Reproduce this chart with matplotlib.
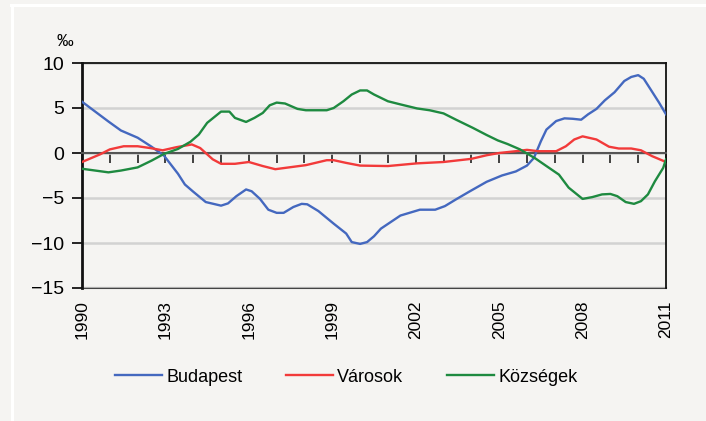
import matplotlib
matplotlib.use("Agg")
import matplotlib.pyplot as plt
from matplotlib import font_manager
from matplotlib.lines import Line2D

bp_x = [1990.0, 1990.95, 1991.4, 1992.0, 1992.5, 1992.95, 1993.45, 1993.7, 1994.0, 1994.45,
        1995.0, 1995.25, 1995.55, 1995.9, 1996.1, 1996.4, 1996.7, 1997.0, 1997.25, 1997.6,
        1997.9, 1998.1, 1998.5, 1999.05, 1999.5, 1999.7, 2000.0, 2000.25, 2000.5, 2000.75,
        2001.45, 2002.15, 2002.7, 2003.05, 2003.45, 2003.95, 2004.55, 2005.1, 2005.6, 2006.0,
        2006.25, 2006.5, 2006.7, 2007.05, 2007.35, 2007.65, 2007.95, 2008.2, 2008.5, 2008.8,
        2009.15, 2009.5, 2009.75, 2010.0, 2010.2, 2010.45, 2010.75, 2011.0]
budapest = [5.7, 3.5, 2.5, 1.7, 0.7, -0.3, -2.3, -3.5, -4.3, -5.45,
            -5.85, -5.6, -4.8, -4.05, -4.25, -5.1, -6.3, -6.65, -6.65, -6.0,
            -5.65, -5.7, -6.45, -7.85, -8.95, -9.9, -10.1, -9.9, -9.25, -8.4,
            -6.95, -6.3, -6.3, -5.9, -5.15, -4.25, -3.2, -2.5, -2.05, -1.4,
            -0.55, 1.3, 2.6, 3.55, 3.85, 3.8, 3.7, 4.3, 4.9, 5.85,
            6.75, 8.0, 8.45, 8.65, 8.25, 7.05, 5.6, 4.3]

va_x = [1990.0, 1990.65, 1991.0, 1991.5, 1992.0, 1992.45, 1992.9, 1993.4, 1993.95, 1994.25,
        1994.7, 1995.0, 1995.5, 1996.0, 1996.5, 1996.95, 1998.05, 1998.8, 1999.05, 1999.5,
        2000.0, 2001.0, 2002.05, 2003.0, 2004.0, 2004.55, 2005.0, 2005.6, 2006.0, 2006.4,
        2007.05, 2007.4, 2007.7, 2008.0, 2008.5, 2008.95, 2009.3, 2009.75, 2010.1, 2010.5, 2011.0]
varosok = [-1.0, -0.15, 0.4, 0.75, 0.75, 0.55, 0.3, 0.65, 0.95, 0.55,
           -0.7, -1.2, -1.2, -1.0, -1.45, -1.8, -1.35, -0.8, -0.8, -1.1,
           -1.4, -1.45, -1.15, -1.0, -0.65, -0.25, 0.0, 0.2, 0.35, 0.2,
           0.2, 0.75, 1.5, 1.85, 1.5, 0.7, 0.5, 0.5, 0.3, -0.35, -1.0]

ko_x = [1990.0, 1990.95, 1991.4, 1992.0, 1992.5, 1992.95, 1993.45, 1993.9, 1994.2, 1994.5,
        1995.0, 1995.3, 1995.5, 1995.9, 1996.2, 1996.5, 1996.75, 1997.0, 1997.3, 1997.75,
        1998.05, 1998.8, 1999.05, 1999.4, 1999.7, 2000.0, 2000.25, 2000.5, 2001.0, 2001.45,
        2002.05, 2002.5, 2003.0, 2003.45, 2004.05, 2004.55, 2004.95, 2005.3, 2005.75, 2006.3,
        2006.7, 2007.15, 2007.5, 2008.0, 2008.35, 2008.7, 2009.0, 2009.25, 2009.55, 2009.85,
        2010.1, 2010.35, 2010.6, 2010.9, 2011.0]
kozsegek = [-1.75, -2.15, -1.95, -1.6, -0.85, -0.1, 0.45, 1.25, 2.05, 3.35,
            4.6, 4.6, 3.9, 3.45, 3.9, 4.45, 5.3, 5.6, 5.5, 4.9,
            4.75, 4.75, 5.0, 5.75, 6.5, 6.95, 6.95, 6.5, 5.75, 5.4,
            4.95, 4.75, 4.4, 3.7, 2.8, 2.0, 1.4, 1.0, 0.4, -0.6,
            -1.45, -2.4, -3.85, -5.1, -4.9, -4.6, -4.55, -4.8, -5.45, -5.65,
            -5.35, -4.6, -3.15, -1.65, -0.7]

labels = ["Budapest", "Városok", "Községek"]
colors = ["#4468bf", "#f23a3a", "#1e8a40"]
year_labels = [1990, 1993, 1996, 1999, 2002, 2005, 2008, 2011]

names = {f.name for f in font_manager.fontManager.ttflist}
fam = "Liberation Sans Narrow" if "Liberation Sans Narrow" in names else "Liberation Sans"
plt.rcParams["font.family"] = [fam, "DejaVu Sans"]
bg = "#f5f4f2"

fig = plt.figure(figsize=(7.06, 4.21), dpi=100, facecolor=bg)
ax = fig.add_axes([82 / 706, 1 - 288 / 421, 584 / 706, 225 / 421])
ax.set_facecolor(bg)

# white frame lines of the panel
fig.add_artist(Line2D([11 / 706, 1], [1 - 4.5 / 421] * 2, color="white", lw=2.2))
fig.add_artist(Line2D([12 / 706] * 2, [0, 1 - 4.5 / 421], color="white", lw=2.2))

for xs, ys, c, lab in zip([bp_x, va_x, ko_x], [budapest, varosok, kozsegek], colors, labels):
    ax.plot(xs, ys, color=c, lw=1.7, label=lab, zorder=3)

ax.set_xlim(1990, 2011)
ax.set_ylim(-15, 10)
ax.set_yticks([-15, -10, -5, 0, 5, 10])
ax.set_yticklabels(["\u221215", "\u221210", "\u22125", "0", "5", "10"])
ax.yaxis.grid(True, color="#d2d2d2", lw=1.8)
ax.set_axisbelow(True)
ax.tick_params(axis="y", direction="out", length=7, width=1.2, pad=6, labelsize=14)

# year ticks on the zero line
ax.spines["bottom"].set_position(("data", 0))
ax.spines["bottom"].set_color("#555555")
ax.spines["bottom"].set_linewidth(1.5)
ax.set_xticks(range(1990, 2012))
ax.tick_params(axis="x", direction="out", length=7, width=1.2, color="#222222", labelbottom=False)

for s in ["left", "top", "right"]:
    ax.spines[s].set_color("#111111")
ax.spines["left"].set_linewidth(2)
ax.spines["top"].set_linewidth(1.3)
ax.spines["right"].set_linewidth(1.3)

# bottom border with the year labels
sec = ax.secondary_xaxis("bottom")
sec.set_xticks(year_labels)
sec.set_xticklabels([str(y) for y in year_labels], rotation=90, fontsize=12.5)
sec.tick_params(length=0, pad=9)
sec.spines["bottom"].set_color("#444444")
sec.spines["bottom"].set_linewidth(1.5)

fig.text(65 / 706, 1 - 42 / 421, "\u2030", ha="center", va="center", fontsize=12)

fig.legend(loc="center left", bbox_to_anchor=(115 / 706, 1 - 377 / 421), ncol=3,
           frameon=False, fontsize=13, handlelength=2.6, handletextpad=0.25,
           columnspacing=2.4, borderpad=0, borderaxespad=0)

fig.savefig("out.png", dpi=100, facecolor=bg)
